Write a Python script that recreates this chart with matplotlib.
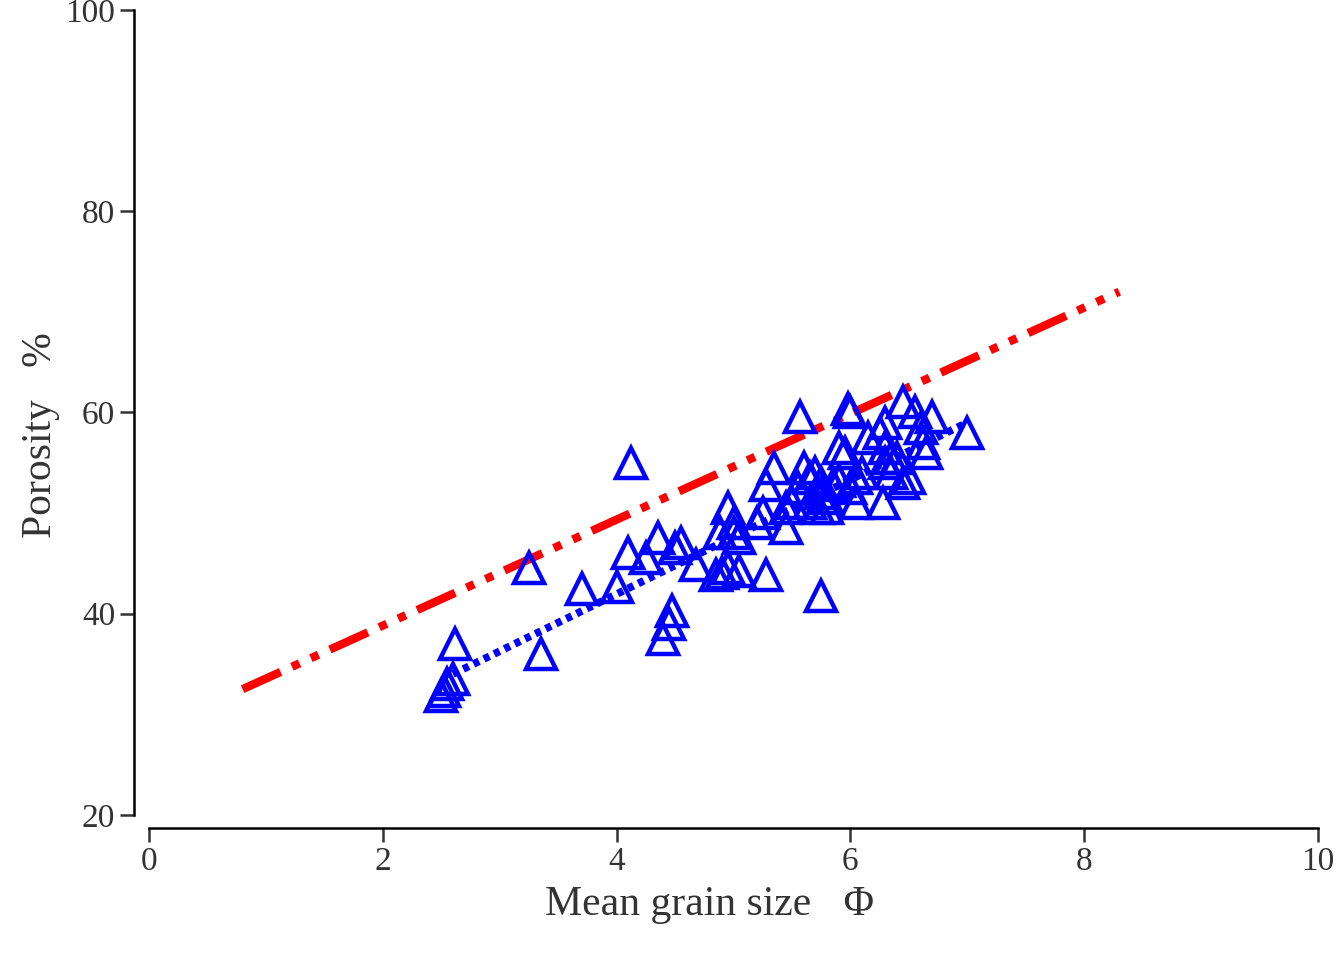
import matplotlib
matplotlib.use("Agg")
import matplotlib.pyplot as plt

grain = [2.5,2.52,2.55,2.6,2.62,3.25,3.35,3.7,4.0,4.12,4.1,4.25,4.35,4.5,4.55,4.4,4.45,4.47,4.68,4.85,4.9,4.95,5.05,5.28,
         4.88,4.95,5.0,5.0,5.05,5.2,5.25,5.28,5.35,5.45,5.45,5.5,5.55,5.57,5.6,5.65,5.7,5.75,5.65,5.72,5.8,5.75,5.8,5.85,
         5.9,5.9,5.95,6.0,5.98,5.75,6.0,6.05,6.05,6.1,6.15,6.25,6.3,6.3,6.35,6.3,6.28,6.35,6.4,6.45,6.5,6.45,6.55,6.6,
         6.65,6.62,6.7,7.0]
porosity = [31.8,32.3,33,33.5,37,44.5,36,42.5,42.7,55,46,45.5,47.5,46.5,47,37.5,39,40.3,44.8,43.8,44,44.5,44.2,43.8,
            48,50.5,49,48,47.5,49,50,52.8,54.5,48.5,50.5,51,52.5,59.5,54.5,53.5,54,53,51,50.5,50.5,52,51.5,52.8,
            53.2,56.5,56,60,60.3,41.8,52.5,53.5,51,54,57.5,58,55,56.5,55.5,59,51,54,55.5,53,53.5,61,60,58.5,
            56,57,59.5,58]
red_x = [0.8, 8.3]
red_y = [32.5, 72.0]
blue_x = [2.6, 7.0]
blue_y = [34.0, 59.0]
xticks = [0, 2, 4, 6, 8, 10]
yticks = [20, 40, 60, 80, 100]

plt.rcParams["font.family"] = ["Liberation Serif", "Noto Sans CJK SC"]
fig = plt.figure(figsize=(13.39, 9.61), dpi=100)
ax = fig.add_axes([0.1, 0.1384, 0.8843, 0.8512])
ax.plot(red_x, red_y, color="red", lw=6, dashes=(5, 1.5, 1, 1.5, 1, 1.5))
ax.plot(blue_x, blue_y, color="blue", lw=5.5, ls=(0, (0.8, 0.7)))
ax.plot(grain, porosity, ls="none", marker="^", ms=22, mfc="none", mec="blue", mew=3.2)
ax.set_xlim(-0.13, 10)
ax.set_ylim(18.7, 100)
ax.set_xticks(xticks)
ax.set_yticks(yticks)
for s in ["top", "right"]:
    ax.spines[s].set_visible(False)
ax.spines["left"].set_bounds(20, 100)
ax.spines["bottom"].set_bounds(0, 10)
ax.spines["left"].set_linewidth(1.8)
ax.spines["bottom"].set_linewidth(1.8)
ax.tick_params(labelsize=24, width=1.8, length=10, direction="out", colors="#333333", labelcolor="#333333")
ax.set_xlabel("Mean grain size（Φ）", fontsize=30, color="#333333", labelpad=6)
ax.set_ylabel("Porosity（%）", fontsize=30, color="#333333", labelpad=4)
fig.savefig("out.png", dpi=100)
